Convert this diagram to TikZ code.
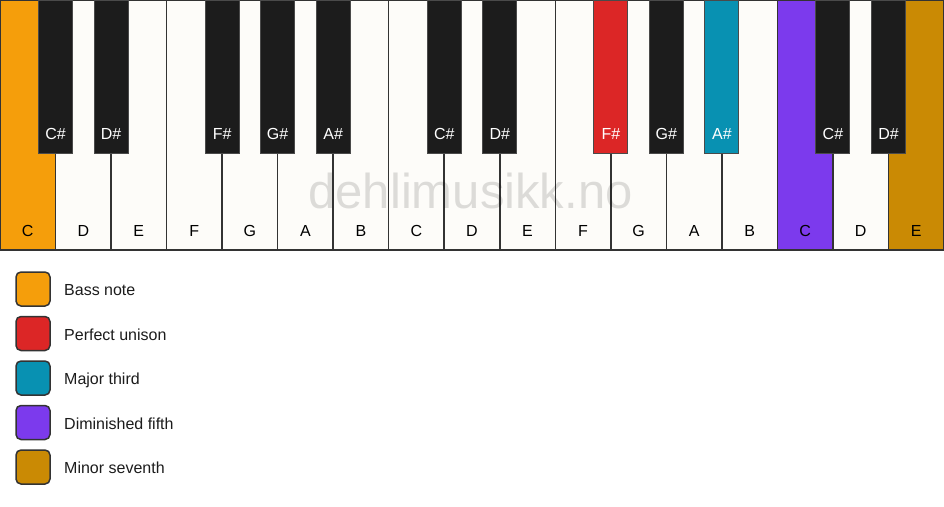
\documentclass[tikz,border=0pt]{standalone}
\usepackage{fontspec}
\setmainfont{Liberation Sans}
\usetikzlibrary{positioning,chains}
\definecolor{ivory}{HTML}{FDFCF9}
\definecolor{ebony}{HTML}{1C1C1C}
\definecolor{keyline}{HTML}{333333}
\definecolor{bkeyline}{HTML}{4A4A4A}
\definecolor{bassnote}{HTML}{F59E0B}
\definecolor{unison}{HTML}{DC2626}
\definecolor{majthird}{HTML}{0891B2}
\definecolor{dimfifth}{HTML}{7C3AED}
\definecolor{minseventh}{HTML}{CA8A04}

\begin{document}
\begin{tikzpicture}[%
    x=1pt, y=-1pt,                 % pixel-like units, y grows downward
    start chain=white going right, % White keys run left-to-right
    node distance=0pt,             % Keys touch each other
    ]
% -------------------------------------------------
% Key and legend styles
\tikzset{
  node font=\fontsize{16}{19}\selectfont,
  base/.style={draw=keyline, line width=1.5pt, inner sep=0pt, outer sep=0pt},
  wkey/.style={base, on chain, fill=ivory, minimum width=55.53pt,
    minimum height=250pt, text height=236pt, text depth=14pt},
  bkey/.style={draw=bkeyline, line width=1pt, fill=ebony, text=white,
    inner sep=0pt, outer sep=0pt, anchor=north, minimum width=34pt,
    minimum height=153pt, text height=139pt, text depth=14pt},
  % legend
  legbox/.style={base, rounded corners=5pt, minimum size=34pt},
  legtext/.style={anchor=west, inner sep=0pt, text=ebony,
    text height=6pt, text depth=6pt, yshift=-6.5pt},
  % watermark
  wmark/.style={anchor=base, font=\fontsize{49}{52}\selectfont,
    text=black, text opacity=0.13},
}
\path[use as bounding box, fill=white] (0,0) rectangle (944,506);
% -------------------------------------------------
% White keys first
\node [wkey, anchor=north west, fill=bassnote] (c1) at (0,0) {C};
\node [wkey] (d1) {D};
\node [wkey] (e1) {E};
\node [wkey] (f1) {F};
\node [wkey] (g1) {G};
\node [wkey] (a1) {A};
\node [wkey] (b1) {B};
\node [wkey] (c2) {C};
\node [wkey] (d2) {D};
\node [wkey] (e2) {E};
\node [wkey] (f2) {F};
\node [wkey] (g2) {G};
\node [wkey] (a2) {A};
\node [wkey] (b2) {B};
\node [wkey, fill=dimfifth] (c3) {C};
\node [wkey] (d3) {D};
\node [wkey, fill=minseventh] (e3) {E};
% -------------------------------------------------
% Watermark sits under the black keys
\node [wmark] (wm) at (470.5,208) {dehlimusikk.no};
% -------------------------------------------------
% Black keys are hung on the white key borders
\node [bkey] (cs1) at (c1.north east) {C\#};
\node [bkey] (ds1) at (d1.north east) {D\#};
\node [bkey] (fs1) at (f1.north east) {F\#};
\node [bkey] (gs1) at (g1.north east) {G\#};
\node [bkey] (as1) at (a1.north east) {A\#};
\node [bkey] (cs2) at (c2.north east) {C\#};
\node [bkey] (ds2) at (d2.north east) {D\#};
\node [bkey, fill=unison] (fs2) at (f2.north east) {F\#};
\node [bkey] (gs2) at (g2.north east) {G\#};
\node [bkey, fill=majthird] (as2) at (a2.north east) {A\#};
\node [bkey] (cs3) at (c3.north east) {C\#};
\node [bkey] (ds3) at (d3.north east) {D\#};
% -------------------------------------------------
% Legend
\node [legbox, fill=bassnote] (lg1) at (33,289) {};
\node [legbox, fill=unison, below=10.5pt of lg1] (lg2) {};
\node [legbox, fill=majthird, below=10.5pt of lg2] (lg3) {};
\node [legbox, fill=dimfifth, below=10.5pt of lg3] (lg4) {};
\node [legbox, fill=minseventh, below=10.5pt of lg4] (lg5) {};
\node [legtext, right=14pt of lg1] (lt1) {Bass note};
\node [legtext, right=14pt of lg2] (lt2) {Perfect unison};
\node [legtext, right=14pt of lg3] (lt3) {Major third};
\node [legtext, right=14pt of lg4] (lt4) {Diminished fifth};
\node [legtext, right=14pt of lg5] (lt5) {Minor seventh};
% -------------------------------------------------
\end{tikzpicture}
\end{document}
